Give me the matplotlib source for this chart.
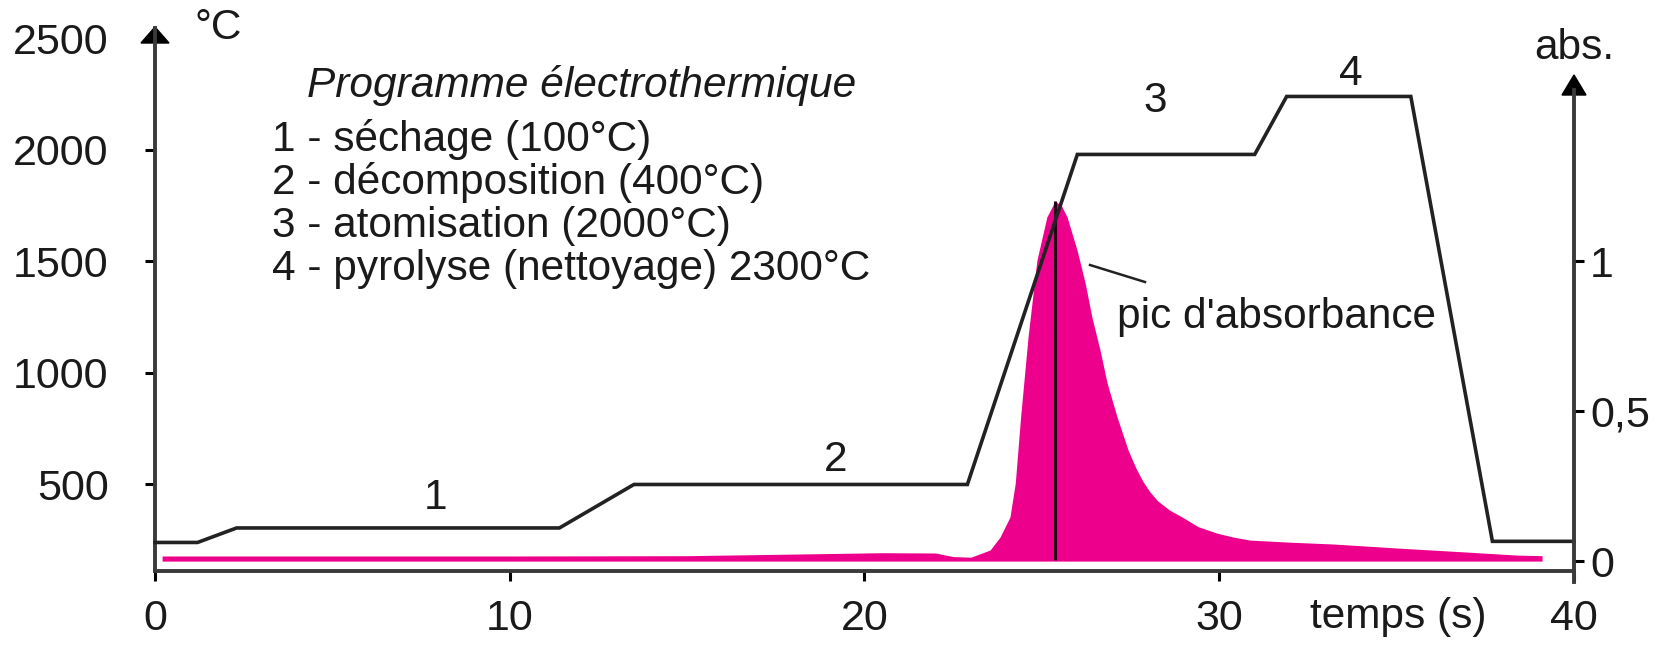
import matplotlib
matplotlib.use("Agg")
import matplotlib.pyplot as plt
import matplotlib.patches as mpatches
import numpy as np

# ---------------- data ----------------
# temperature programme (time in s, temperature in °C)
t_temp = [0, 1.2, 2.3, 11.4, 13.5, 22.9, 26.0, 31.0, 31.9, 35.4, 37.7, 40]
T_temp = [240, 240, 305, 305, 500, 500, 1980, 1980, 2240, 2240, 245, 245]

# absorbance signal (time in s, absorbance)
t_abs = [0.2, 5, 10, 15, 18.9, 20.5, 22.0, 22.5, 23.0, 23.54, 23.82, 24.1,
         24.25, 24.4, 24.61, 24.86, 25.14, 25.37, 25.55, 25.71, 25.99, 26.22,
         26.41, 26.64, 26.84, 27.12, 27.43, 27.65, 27.85, 28.05, 28.27, 28.6,
         28.98, 29.4, 29.94, 30.4, 30.87, 32.0, 33.21, 35.1, 37.0, 38.4, 39.1]
A_abs = [0.017, 0.017, 0.017, 0.018, 0.025, 0.028, 0.027, 0.015, 0.013, 0.037,
         0.08, 0.147, 0.26, 0.48, 0.747, 1.003, 1.147, 1.2, 1.185, 1.147,
         1.037, 0.927, 0.813, 0.703, 0.593, 0.48, 0.37, 0.31, 0.265, 0.23,
         0.2, 0.17, 0.145, 0.115, 0.093, 0.08, 0.07, 0.063, 0.057, 0.043,
         0.03, 0.02, 0.018]

x_ticks = [0, 10, 20, 30, 40]
x_ticklabels = ["0", "10", "20", "30", "40"]
T_ticks = [500, 1000, 1500, 2000, 2500]
T_ticklabels = ["500", "1000", "1500", "2000", "2500"]
A_ticks = [0, 0.5, 1]
A_ticklabels = ["0", "0,5", "1"]

title_text = "Programme électrothermique"
legend_lines = ["1 - séchage (100°C)",
                "2 - décomposition (400°C)",
                "3 - atomisation (2000°C)",
                "4 - pyrolyse (nettoyage) 2300°C"]
step_labels = ["1", "2", "3", "4"]
step_times = [7.9, 19.2, 28.2, 33.7]
step_temps = [440, 610, 2220, 2340]

# ---------------- style ----------------
W, H = 1674, 645
FONT = "Liberation Sans"
FS = 30.5
FS_TICK = 31
MAGENTA = "#EC008C"
AXC = "#3a3a3a"
TXT = "#1a1a1a"

plt.rcParams["font.family"] = [FONT, "DejaVu Sans"]

fig = plt.figure(figsize=(W / 100, H / 100), dpi=100)

def fx(x):
    return x / W

def fy(y):
    return 1 - y / H

ax_l, ax_r, ax_b, ax_t = 155, 1574, 571, 28
ax = fig.add_axes([fx(ax_l), fy(ax_b), (ax_r - ax_l) / W, (ax_b - ax_t) / H])
ax.set_xlim(0, 40)
ax.set_ylim(112, 2547)
ax2 = ax.twinx()
ax2.set_ylim(-0.033, 1.777)

for a in (ax, ax2):
    for s in a.spines.values():
        s.set_visible(False)
    a.patch.set_visible(False)

for s in ("left", "bottom"):
    ax.spines[s].set_visible(True)
    ax.spines[s].set_color(AXC)
    ax.spines[s].set_linewidth(2.8)

ax.set_xticks(x_ticks)
ax.set_xticklabels(x_ticklabels)
ax.set_yticks(T_ticks)
ax.set_yticklabels(T_ticklabels)
ax2.set_yticks(A_ticks)
ax2.set_yticklabels(A_ticklabels)

ax.tick_params(axis="x", direction="out", length=7.5, width=2.2, color="black",
               labelsize=FS_TICK, pad=13, labelcolor=TXT)
ax.tick_params(axis="y", direction="out", length=7.5, width=2.2, color="black",
               labelsize=FS_TICK, pad=26, labelcolor=TXT)
ax2.tick_params(axis="y", direction="out", length=7.5, width=2.2, color="black",
                labelsize=FS_TICK, pad=4, labelcolor=TXT)

# absorbance peak
ax2.fill_between(t_abs, 0, A_abs, color=MAGENTA, lw=0, zorder=2)
ipk = int(np.argmax(A_abs))
ax2.plot([t_abs[ipk], t_abs[ipk]], [0.005, A_abs[ipk]], color="#2a0018",
         lw=2.2, zorder=3, solid_capstyle="butt")

# temperature programme
ax.plot(t_temp, T_temp, color="#222222", lw=2.6, zorder=4,
        solid_joinstyle="miter", clip_on=False)
ax.set_zorder(ax2.get_zorder() + 1)

# right axis line with arrow (pixel space)
fig.add_artist(plt.Line2D([fx(1574), fx(1574)], [fy(582), fy(90)],
                          color=AXC, lw=2.8, transform=fig.transFigure))
fig.add_artist(mpatches.Polygon([[fx(1562), fy(95)], [fx(1586), fy(95)],
                                 [fx(1574), fy(75)]], closed=True,
                                color="black", transform=fig.transFigure))
# left axis arrow head
fig.add_artist(mpatches.Polygon([[fx(141), fy(43)], [fx(169), fy(43)],
                                 [fx(155), fy(27)]], closed=True,
                                color="black", transform=fig.transFigure))

# unit labels
fig.text(fx(218), fy(28), "°C", fontsize=FS, ha="center", va="center",
         color=TXT)
fig.text(fx(1574), fy(48), "abs.", fontsize=FS, ha="center", va="center",
         color=TXT)
fig.text(fx(1398), fy(617), "temps (s)", fontsize=FS, ha="center",
         va="center", color=TXT)

# legend block
fig.text(fx(307), fy(85), title_text, fontsize=FS, style="italic",
         ha="left", va="center", color=TXT)
for i, line in enumerate(legend_lines):
    fig.text(fx(272), fy(140 + 43 * i), line, fontsize=FS, ha="left",
             va="center", color=TXT)

# step numbers
for lab, ts, Ts in zip(step_labels, step_times, step_temps):
    ax.text(ts, Ts, lab, fontsize=FS, ha="center", va="center", color=TXT)

# peak annotation
fig.add_artist(plt.Line2D([fx(1090), fx(1145)], [fy(265), fy(282)],
                          color="#222222", lw=1.8, transform=fig.transFigure))
fig.text(fx(1117), fy(317), "pic d'absorbance", fontsize=FS, ha="left",
         va="center", color=TXT)

fig.savefig("out.png", dpi=100)
